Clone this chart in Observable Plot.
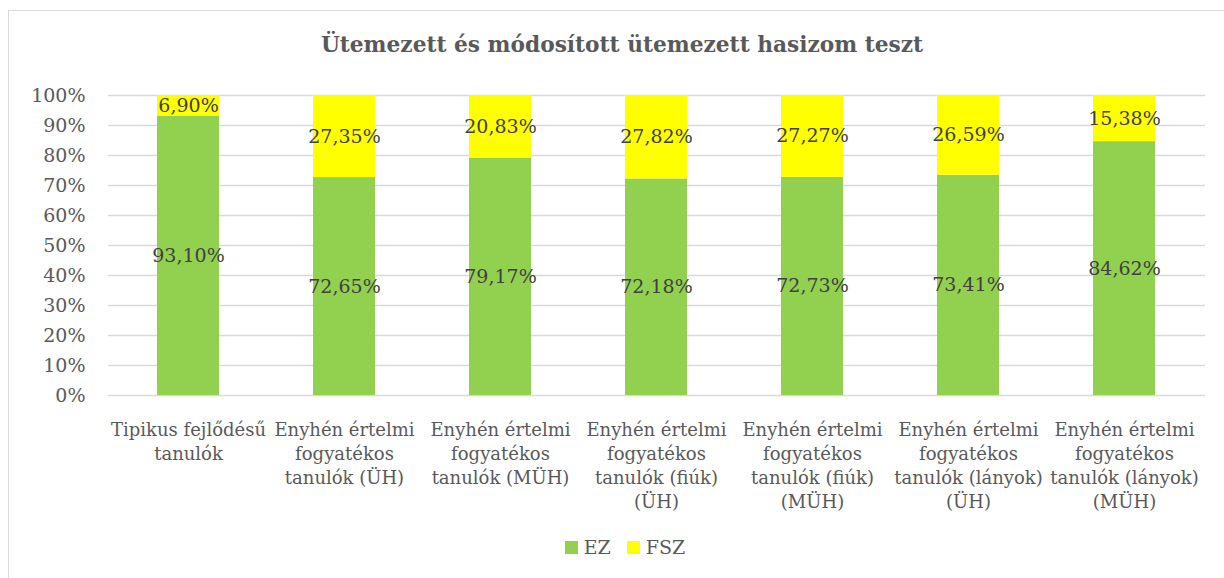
<!DOCTYPE html>
<html>
<head>
<meta charset="utf-8">
<script src="https://cdn.jsdelivr.net/npm/d3@7"></script>
<script src="https://cdn.jsdelivr.net/npm/@observablehq/plot@0.6"></script>
<style>
  html, body { margin: 0; padding: 0; background: #fff; }
  body { width: 1224px; height: 578px; position: relative; overflow: hidden; font-family: "DejaVu Serif", serif; }
  #frame { position: absolute; left: 8px; top: 10px; width: 1240px; height: 600px; border-left: 1px solid #d9d9d9; border-top: 1px solid #d9d9d9; }
  #title { position: absolute; left: 14px; width: 1216px; top: 30px; text-align: center; font-size: 21.7px; font-weight: bold; color: #595959; line-height: 30px; }
  #chart { position: absolute; left: 0; top: 70px; }
  #legend { position: absolute; top: 536px; left: 0; width: 1250px; display: flex; justify-content: center; align-items: center; font-size: 19px; color: #595959; }
  .item { display: flex; align-items: center; margin: 0 8px; }
  .sw { width: 13px; height: 13px; margin-right: 6px; }
</style>
</head>
<body>
<div id="frame"></div>
<div id="title"></div>
<div id="chart"></div>
<div id="legend"></div>
<script>
const title = "Ütemezett és módosított ütemezett hasizom teszt";
const categories = [
  "Tipikus fejlődésű\ntanulók",
  "Enyhén értelmi\nfogyatékos\ntanulók (ÜH)",
  "Enyhén értelmi\nfogyatékos\ntanulók (MÜH)",
  "Enyhén értelmi\nfogyatékos\ntanulók (fiúk)\n(ÜH)",
  "Enyhén értelmi\nfogyatékos\ntanulók (fiúk)\n(MÜH)",
  "Enyhén értelmi\nfogyatékos\ntanulók (lányok)\n(ÜH)",
  "Enyhén értelmi\nfogyatékos\ntanulók (lányok)\n(MÜH)"
];
const seriesNames = ["EZ", "FSZ"];
const seriesColors = ["#92D050", "#FFFF00"];
const ezValues = [93.10, 72.65, 79.17, 72.18, 72.73, 73.41, 84.62];
const fszValues = [6.90, 27.35, 20.83, 27.82, 27.27, 26.59, 15.38];
const yTicks = [0, 10, 20, 30, 40, 50, 60, 70, 80, 90, 100];

const data = [];
categories.forEach((c, i) => {
  data.push({category: c, series: seriesNames[0], value: ezValues[i]});
  data.push({category: c, series: seriesNames[1], value: fszValues[i]});
});
const fmt = v => v.toFixed(2).replace(".", ",") + "%";

document.getElementById("title").textContent = title;

const chart = Plot.plot({
  width: 1224,
  height: 450,
  marginTop: 25,
  marginBottom: 125,
  marginLeft: 108,
  marginRight: 19,
  style: {fontFamily: "DejaVu Serif, serif", background: "transparent"},
  x: {domain: categories, paddingInner: 0.6, paddingOuter: 0.3, label: null},
  y: {domain: [0, 100], label: null},
  color: {domain: seriesNames, range: seriesColors},
  marks: [
    Plot.gridY(yTicks, {stroke: "#d9d9d9", strokeOpacity: 1, strokeWidth: 1.5}),
    Plot.axisY(yTicks, {tickSize: 0, tickPadding: 23, fontSize: 19, fill: "#595959", tickFormat: d => d + "%", label: null}),
    Plot.axisX({tickSize: 0, tickPadding: 23, fontSize: 18, lineHeight: 1.34, fill: "#595959", label: null}),
    Plot.barY(data, Plot.stackY({x: "category", y: "value", fill: "series", order: null})),
    Plot.text(data, Plot.stackY({x: "category", y: "value", z: "series", order: null, text: d => fmt(d.value), fill: "#404040", fontSize: 19}))
  ]
});
document.getElementById("chart").appendChild(chart);

const legend = document.getElementById("legend");
seriesNames.forEach((s, i) => {
  const item = document.createElement("div");
  item.className = "item";
  const sw = document.createElement("div");
  sw.className = "sw";
  sw.style.background = seriesColors[i];
  const t = document.createElement("span");
  t.textContent = s;
  item.appendChild(sw);
  item.appendChild(t);
  legend.appendChild(item);
});
</script>
</body>
</html>
